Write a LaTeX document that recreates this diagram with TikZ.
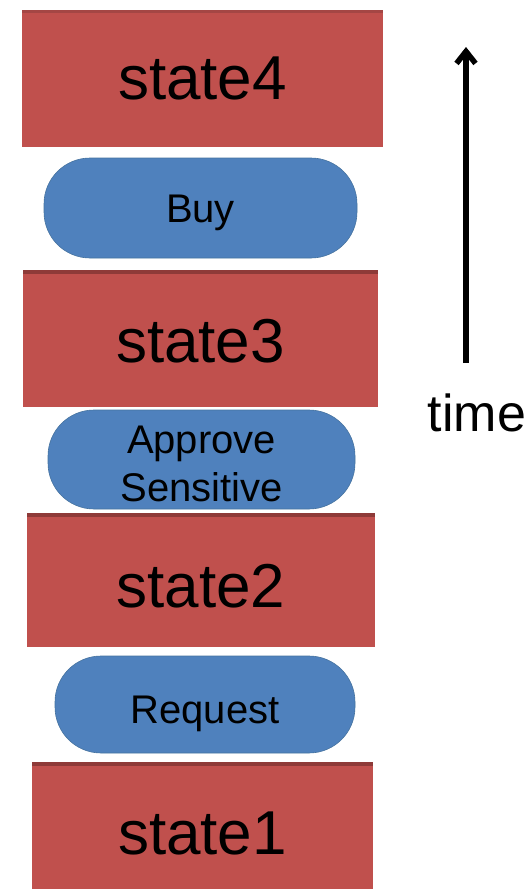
\documentclass[tikz,border=0pt]{standalone}
\usepackage{fontspec}
\setmainfont{Liberation Sans}
\usetikzlibrary{arrows.meta}
\definecolor{statered}{HTML}{C0504D}
\definecolor{stateedge}{HTML}{8E3A38}
\definecolor{stateedgelight}{HTML}{A44644}
\definecolor{actionblue}{HTML}{4F81BD}
\definecolor{actionedge}{HTML}{46739F}
% lower a label inside its box without changing the box size
\newcommand\lowerlabel[2]{\raisebox{-#1}[\height][\depth]{#2}}
\tikzset{
  statebox/.style={rectangle, fill=statered, inner sep=0pt,
    font=\fontsize{62}{70}\selectfont,
    path picture={\fill[stateedge] (path picture bounding box.north west)
      rectangle ([yshift=-4pt]path picture bounding box.north east);}},
  topstate/.style={statebox,
    path picture={\fill[stateedgelight] (path picture bounding box.north west)
      rectangle ([yshift=-3pt]path picture bounding box.north east);}},
  actionpill/.style={rectangle, rounded corners=46pt, fill=actionblue,
    draw=actionedge, line width=0.6pt, inner sep=0pt,
    font=\fontsize{40}{48}\selectfont},
  timearrow/.style={line width=5.5pt, -{Straight Barb[length=12pt,width=19pt]}}
}
\begin{document}
\begin{tikzpicture}[x=1pt,y=-1pt]
  \useasboundingbox (0,0) rectangle (531,889);
  \fill[white] (0,0) rectangle (531,889);

  % states, oldest at the bottom
  \node[topstate, minimum width=361pt, minimum height=137pt] (s4) at (202.5,78.5) {state4};
  \node[actionpill, minimum width=313pt, minimum height=100pt] (buy) at (200.5,208) {\lowerlabel{5pt}{Buy}};
  \node[statebox, minimum width=355pt, minimum height=137pt] (s3) at (200.5,338.5) {\lowerlabel{3pt}{state3}};
  \node[actionpill, minimum width=307pt, minimum height=99pt] (approve) at (201.5,459.5)
    {\lowerlabel{8pt}{\begin{tabular}{@{}c@{}}Approve\\Sensitive\end{tabular}}};
  \node[statebox, minimum width=348pt, minimum height=134pt] (s2) at (201,580) {\lowerlabel{6pt}{state2}};
  \node[actionpill, minimum width=300pt, minimum height=97pt] (request) at (205,704.5) {\lowerlabel{9pt}{Request}};
  \node[statebox, minimum width=341pt, minimum height=134pt] (s1) at (202.5,829) {\lowerlabel{4pt}{state1}};

  % time axis
  \node[font=\fontsize{52}{60}\selectfont, inner sep=0pt] (time) at (477,413) {time};
  \coordinate (tbase) at (466,363);
  \coordinate (ttip) at (466,47);
  \draw[timearrow] (tbase) -- (ttip);
\end{tikzpicture}
\end{document}
